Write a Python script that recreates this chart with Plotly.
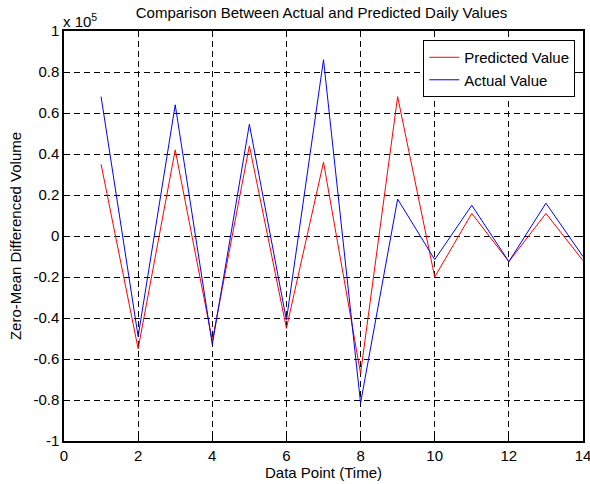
import plotly.graph_objects as go

x_points = list(range(1, 15))
predicted = [35000, -55000, 42000, -51000, 44000, -45000, 36000, -67000, 68000, -20000, 11000, -12500, 11000, -12000]
actual = [68000, -49000, 64000, -53000, 54500, -41000, 86000, -81500, 18000, -11500, 15000, -12500, 16000, -10000]

y_ticks = [-100000, -80000, -60000, -40000, -20000, 0, 20000, 40000, 60000, 80000, 100000]
y_tick_labels = ["-1", "-0.8", "-0.6", "-0.4", "-0.2", "0", "0.2", "0.4", "0.6", "0.8", "1"]
x_ticks = [0, 2, 4, 6, 8, 10, 12, 14]

FONT = "Liberation Sans, Arial, Helvetica, sans-serif"

fig = go.Figure()
fig.add_trace(go.Scatter(x=x_points, y=predicted, mode="lines", name="Predicted Value",
                         line=dict(color="#ff0000", width=1)))
fig.add_trace(go.Scatter(x=x_points, y=actual, mode="lines", name="Actual Value",
                         line=dict(color="#0000ff", width=1)))

axis_common = dict(showline=True, linecolor="black", linewidth=1.5, mirror="ticks",
                   ticks="inside", ticklen=5, tickcolor="black", tickwidth=1,
                   showgrid=True, gridcolor="black", gridwidth=1, griddash="6px,4px",
                   zeroline=False, automargin=False, ticklabeloverflow="allow",
                   tickfont=dict(family=FONT, size=15, color="black"))

fig.update_xaxes(range=[0, 14], tickvals=x_ticks, **axis_common,
                 title=dict(text="Data Point (Time)", font=dict(family=FONT, size=15, color="black"), standoff=0))
fig.update_yaxes(range=[-100000, 100000], tickvals=y_ticks, ticktext=y_tick_labels, **axis_common,
                 title=dict(text="Zero-Mean Differenced Volume", font=dict(family=FONT, size=15, color="black"), standoff=8))

fig.update_layout(
    width=590, height=484,
    margin=dict(l=64, r=7, t=31, b=43, pad=0, autoexpand=False),
    paper_bgcolor="white", plot_bgcolor="white",
    font=dict(family=FONT, size=15, color="black"),
    title=dict(text="Comparison Between Actual and Predicted Daily Values", x=0.545, xanchor="center",
               y=0.973, yanchor="middle", font=dict(family=FONT, size=15, color="black")),
    legend=dict(x=0.985, xanchor="right", y=0.978, yanchor="top", bgcolor="white",
                bordercolor="black", borderwidth=1, font=dict(family=FONT, size=15, color="black"),
                tracegroupgap=0, entrywidth=150, entrywidthmode="pixels"),
    showlegend=True,
)
fig.add_annotation(text="x 10<sup>5</sup>", xref="paper", yref="paper", x=0, y=1, xanchor="left",
                   yanchor="bottom", showarrow=False, font=dict(family=FONT, size=15, color="black"),
                   xshift=-3, yshift=-1)

fig.write_html("out.html", config={"displayModeBar": False},
               post_script="document.body.style.margin='0';document.body.style.padding='0';")
